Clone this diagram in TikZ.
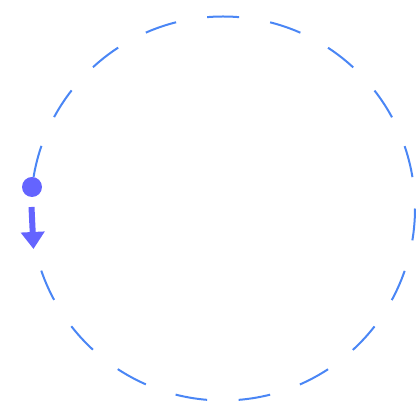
\documentclass[tikz,border=0pt]{standalone}
\usetikzlibrary{arrows.meta}
\definecolor{ringblue}{HTML}{4A86F5}
\definecolor{dotblue}{HTML}{6464FF}
\tikzset{
  ring/.style={draw=ringblue,line width=2pt,dash pattern=on 32pt off 31.5pt,dash phase=32pt},
  ball/.style={circle,fill=dotblue,inner sep=0pt,minimum size=20pt},
  push/.style={draw=dotblue,line width=6pt,-{Triangle[length=17pt,width=23pt]}}
}
\begin{document}
\begin{tikzpicture}[x=1pt,y=1pt]
\useasboundingbox (0,0) rectangle (416,406);
\draw[ring] (223,197.5) circle [radius=192];
\node[ball] (dot) at (32,219) {};
\coordinate (tail) at (31.5,199);
\coordinate (tip) at (33.5,157);
\draw[push] (tail) -- (tip);
\end{tikzpicture}
\end{document}
